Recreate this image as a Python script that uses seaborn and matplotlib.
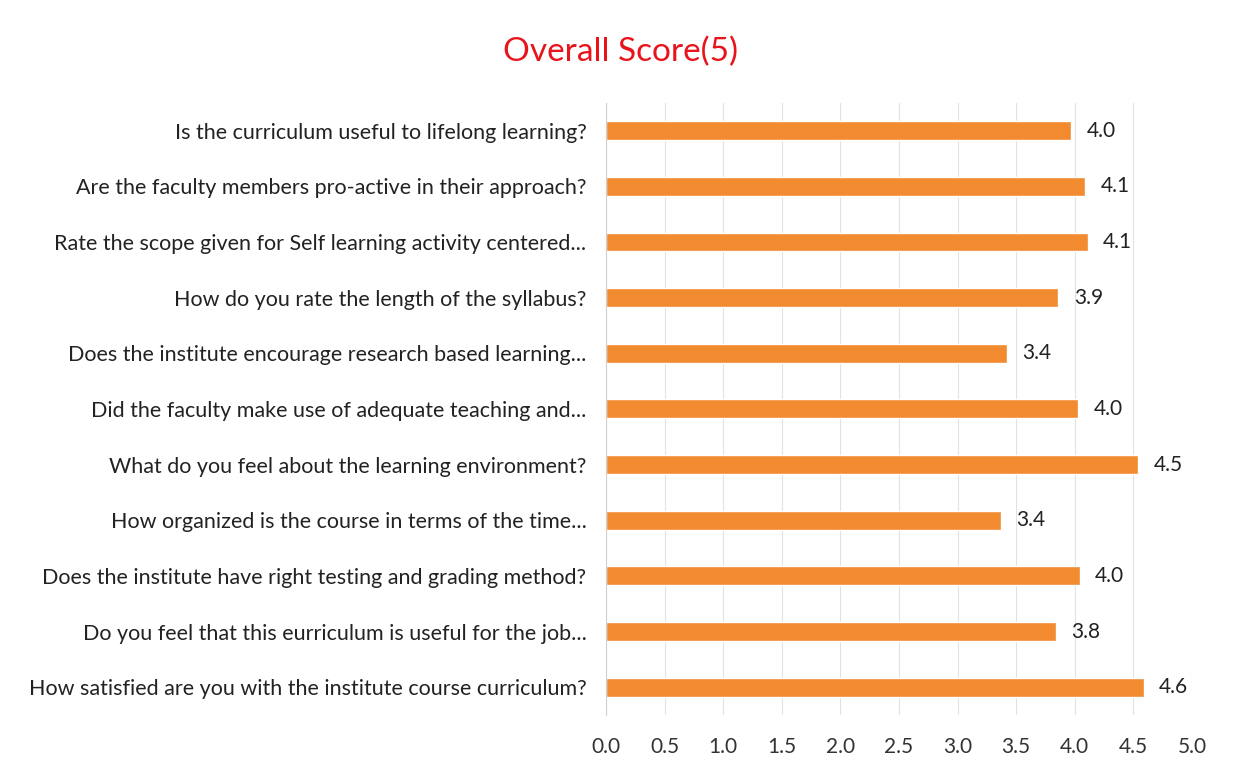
import numpy as np
import matplotlib
matplotlib.use("Agg")
import matplotlib.pyplot as plt
import seaborn as sns
import pandas as pd

# Data (top to bottom)
questions = [
    "Is the curriculum useful to lifelong learning?",
    "Are the faculty members pro-active in their approach?",
    "Rate the scope given for Self learning activity centered...",
    "How do you rate the length of the syllabus?",
    "Does the institute encourage research based learning...",
    "Did the faculty make use of adequate teaching and...",
    "What do you feel about the learning environment?",
    "How organized is the course in terms of the time...",
    "Does the institute have right testing and grading method?",
    "Do you feel that this eurriculum is useful for the job...",
    "How satisfied are you with the institute course curriculum?",
]
scores = [3.97, 4.09, 4.11, 3.86, 3.42, 4.03, 4.54, 3.37, 4.04, 3.84, 4.59]
x_ticks = [0.0, 0.5, 1.0, 1.5, 2.0, 2.5, 3.0, 3.5, 4.0, 4.5, 5.0]

df = pd.DataFrame({"question": questions, "score": scores})

sns.set_theme(style="white")
plt.rcParams["font.family"] = ["Lato", "DejaVu Sans"]

fig = plt.figure(figsize=(12.34, 7.7), dpi=100)
ax = fig.add_axes([0.491, 0.0714, 0.475, 0.795])

sns.barplot(data=df, x="score", y="question", color="#F28A30",
            saturation=1, width=0.34, ax=ax, orient="h")

for cont in ax.containers:
    ax.bar_label(cont, fmt="%.1f", padding=11, fontsize=15, color="#222222")

ax.set_xlim(0, 5)
ax.set_xticks(x_ticks)
ax.set_xticklabels([f"{t:.1f}" for t in x_ticks], fontsize=15, color="#333333")
ax.tick_params(axis="x", length=0, pad=16)
ax.tick_params(axis="y", length=0, pad=14, labelsize=15.5, labelcolor="#222222")
ax.set_xlabel("")
ax.set_ylabel("")
ax.grid(axis="x", color="#e2e2e2", linewidth=0.8)
ax.set_axisbelow(True)
for side in ["top", "right", "bottom"]:
    ax.spines[side].set_visible(False)
ax.spines["left"].set_color("#d0d0d0")
ax.spines["left"].set_linewidth(0.8)

fig.text(0.503, 0.933, "Overall Score(5)", color="#e8141c", fontsize=24,
         ha="center", va="center")

fig.savefig("out.png", dpi=100)
